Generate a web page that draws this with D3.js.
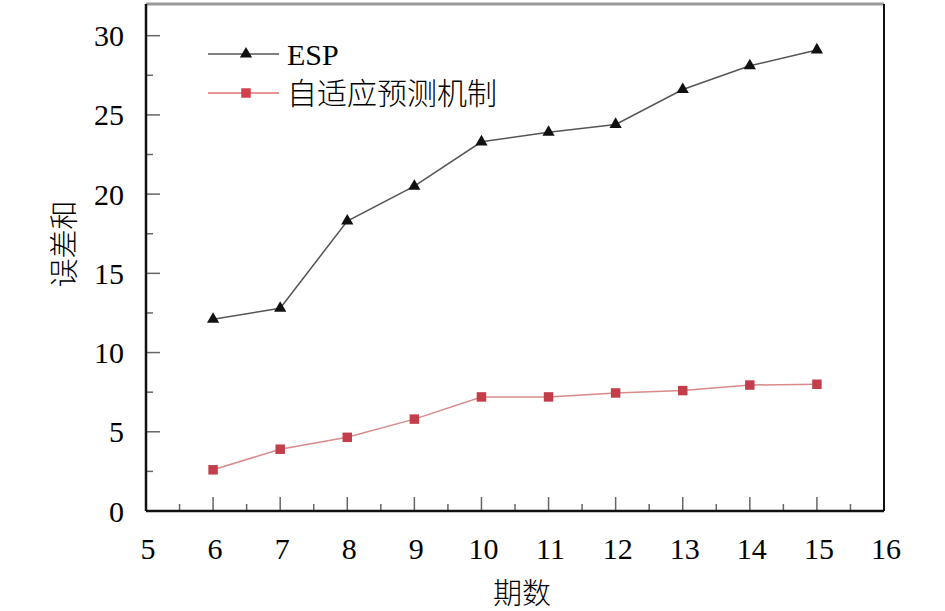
<!DOCTYPE html>
<html>
<head>
<meta charset="utf-8">
<script src="https://cdn.jsdelivr.net/npm/d3@7"></script>
<style>
  body { margin: 0; background: #fff; }
  svg { display: block; }
</style>
</head>
<body>
<div id="viz"></div>
<script>
const periods = [6, 7, 8, 9, 10, 11, 12, 13, 14, 15]
const espValues = [12.1, 12.8, 18.3, 20.5, 23.3, 23.9, 24.4, 26.6, 28.1, 29.1]
const adaptiveValues = [2.6, 3.9, 4.65, 5.8, 7.2, 7.2, 7.45, 7.6, 7.95, 8.0]
const seriesNames = ["ESP", "自适应预测机制"]
const xTicks = [5, 6, 7, 8, 9, 10, 11, 12, 13, 14, 15, 16]
const yTicks = [0, 5, 10, 15, 20, 25, 30]

const width = 945
const height = 611
const margin = {top: 4, right: 61, bottom: 100, left: 146}
const serif = "'Liberation Serif', 'Times New Roman', serif"
const cjk = "'Noto Sans CJK SC', sans-serif"

const svg = d3.select("#viz").append("svg")
    .attr("width", width)
    .attr("height", height)

const x = d3.scaleLinear().domain([5, 16]).range([margin.left, width - margin.right])
const y = d3.scaleLinear().domain([0, 32]).range([height - margin.bottom, margin.top])

// minor ticks at half steps
const xMinor = d3.range(5.5, 16, 1)
const yMinor = d3.range(2.5, 32, 5)

const tickColor = "#666"
const grid = svg.append("g")
grid.selectAll(".xmaj").data(xTicks.slice(1, -1)).join("line")
    .attr("x1", d => x(d)).attr("x2", d => x(d))
    .attr("y1", y(0)).attr("y2", y(0) - 14)
    .attr("stroke", tickColor).attr("stroke-width", 1.5)
grid.selectAll(".xmin").data(xMinor).join("line")
    .attr("x1", d => x(d)).attr("x2", d => x(d))
    .attr("y1", y(0)).attr("y2", y(0) - 7)
    .attr("stroke", tickColor).attr("stroke-width", 1.5)
grid.selectAll(".ymaj").data(yTicks.slice(1)).join("line")
    .attr("x1", x(5)).attr("x2", x(5) + 14)
    .attr("y1", d => y(d)).attr("y2", d => y(d))
    .attr("stroke", tickColor).attr("stroke-width", 1.5)
grid.selectAll(".ymin").data(yMinor).join("line")
    .attr("x1", x(5)).attr("x2", x(5) + 7)
    .attr("y1", d => y(d)).attr("y2", d => y(d))
    .attr("stroke", tickColor).attr("stroke-width", 1.5)

// frame
svg.append("line").attr("x1", x(5)).attr("x2", x(16)).attr("y1", y(32)).attr("y2", y(32))
    .attr("stroke", "#999").attr("stroke-width", 3)
svg.append("line").attr("x1", x(16)).attr("x2", x(16)).attr("y1", y(32)).attr("y2", y(0))
    .attr("stroke", "#111").attr("stroke-width", 2)
svg.append("line").attr("x1", x(5)).attr("x2", x(5)).attr("y1", y(32)).attr("y2", y(0))
    .attr("stroke", "#111").attr("stroke-width", 2.5)
svg.append("line").attr("x1", x(5)).attr("x2", x(16)).attr("y1", y(0)).attr("y2", y(0))
    .attr("stroke", "#111").attr("stroke-width", 2.5)

// tick labels
svg.append("g").selectAll("text").data(xTicks).join("text")
    .attr("x", d => x(d) + 2)
    .attr("y", y(0) + 48)
    .attr("text-anchor", "middle")
    .attr("font-family", serif)
    .attr("font-size", 30)
    .attr("fill", "#000")
    .text(d => d)
svg.append("g").selectAll("text").data(yTicks).join("text")
    .attr("x", x(5) - 22)
    .attr("y", d => y(d))
    .attr("dy", "0.35em")
    .attr("text-anchor", "end")
    .attr("font-family", serif)
    .attr("font-size", 30)
    .attr("fill", "#000")
    .text(d => d)

// axis titles
svg.append("text")
    .attr("x", 522).attr("y", 604)
    .attr("text-anchor", "middle")
    .attr("font-family", cjk)
    .attr("font-size", 29)
    .attr("font-weight", 300)
    .text("期数")
svg.append("text")
    .attr("transform", "translate(75,244) rotate(-90)")
    .attr("text-anchor", "middle")
    .attr("font-family", cjk)
    .attr("font-size", 29)
    .attr("font-weight", 300)
    .text("误差和")

const line = d3.line().x(d => x(d[0])).y(d => y(d[1]))
const espData = periods.map((p, i) => [p, espValues[i]])
const adaptiveData = periods.map((p, i) => [p, adaptiveValues[i]])

const tri = d3.symbol().type(d3.symbolTriangle).size(65)
const sq = d3.symbol().type(d3.symbolSquare).size(90)

svg.append("path").datum(espData)
    .attr("d", line).attr("fill", "none")
    .attr("stroke", "#555").attr("stroke-width", 1.5)
svg.append("g").selectAll("path").data(espData).join("path")
    .attr("transform", d => `translate(${x(d[0])},${y(d[1])})`)
    .attr("d", tri).attr("fill", "#111")

svg.append("path").datum(adaptiveData)
    .attr("d", line).attr("fill", "none")
    .attr("stroke", "#d98a8a").attr("stroke-width", 1.5)
svg.append("g").selectAll("path").data(adaptiveData).join("path")
    .attr("transform", d => `translate(${x(d[0])},${y(d[1])})`)
    .attr("d", sq).attr("fill", "#c43d4b")

// legend
const legend = svg.append("g").attr("transform", "translate(208,54)")
const legendRows = [
  {name: seriesNames[0], stroke: "#555", fill: "#111", sym: tri, font: serif},
  {name: seriesNames[1], stroke: "#e07070", fill: "#d0404a", sym: sq, font: cjk}
]
legendRows.forEach((r, i) => {
  const g = legend.append("g").attr("transform", `translate(0,${i * 39})`)
  g.append("line").attr("x1", 0).attr("x2", 71)
      .attr("stroke", r.stroke).attr("stroke-width", 1.5)
  g.append("path").attr("transform", "translate(38,0)").attr("d", r.sym).attr("fill", r.fill)
  g.append("text").attr("x", 79).attr("dy", "0.35em")
      .attr("font-family", r.font)
      .attr("font-size", i === 0 ? 30 : 30)
      .attr("font-weight", i === 0 ? 400 : 300)
      .text(r.name)
})
</script>
</body>
</html>
